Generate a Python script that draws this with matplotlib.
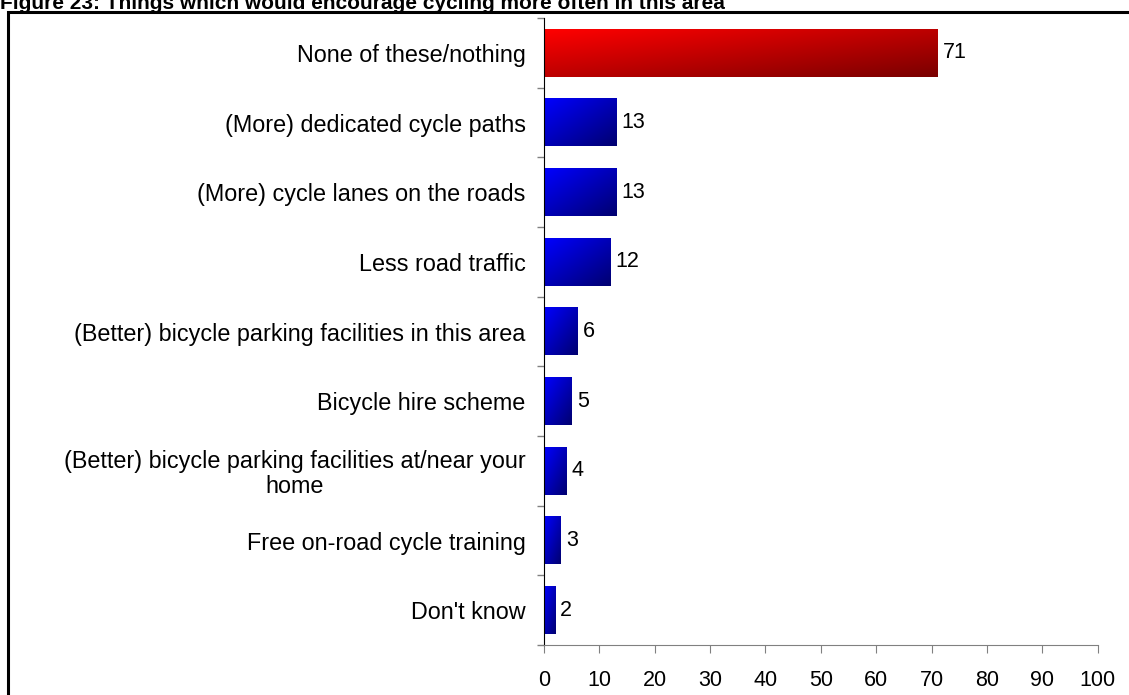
import matplotlib
matplotlib.use('Agg')
import matplotlib.pyplot as plt
import numpy as np
from matplotlib.colors import LinearSegmentedColormap
from matplotlib.patches import Rectangle

plt.rcParams['font.family'] = ['Liberation Sans', 'DejaVu Sans']

title = 'Figure 23: Things which would encourage cycling more often in this area'
categories = ['None of these/nothing',
              '(More) dedicated cycle paths',
              '(More) cycle lanes on the roads',
              'Less road traffic',
              '(Better) bicycle parking facilities in this area',
              'Bicycle hire scheme',
              '(Better) bicycle parking facilities at/near your\nhome',
              'Free on-road cycle training',
              "Don't know"]
values = [71, 13, 13, 12, 6, 5, 4, 3, 2]
highlight = [True, False, False, False, False, False, False, False, False]

red_map = LinearSegmentedColormap.from_list('r', ['#ff0000', '#7a0000'])
blue_map = LinearSegmentedColormap.from_list('b', ['#0000ff', '#000070'])

fig = plt.figure(figsize=(11.29, 6.95), dpi=100)
ax = fig.add_axes([0.4816, 0.0719, 0.4907, 0.9022])

n = len(categories)
ypos = np.arange(n)
bars = ax.barh(ypos, values, height=0.68, color='none')

# diagonal gradient fill for each bar
u, v = np.meshgrid(np.linspace(0, 1, 60), np.linspace(0, 1, 60))
grad = (u + v) / 2
for b, hl in zip(bars, highlight):
    x0, y0 = b.get_x(), b.get_y()
    w, h = b.get_width(), b.get_height()
    ax.imshow(grad, cmap=red_map if hl else blue_map, aspect='auto',
              extent=(x0, x0 + w, y0 + h, y0), interpolation='bilinear', zorder=2)
ax.set_xlim(0, 100)
ax.set_ylim(n - 0.5, -0.5)

for y, val in zip(ypos, values):
    ax.text(val + 1.0, y, str(val), va='center', ha='left', fontsize=15.5)

# category labels at centres, tick marks at boundaries
ax.set_yticks(np.arange(-0.5, n, 1))
ax.set_yticklabels([])
ax.set_yticks(ypos, minor=True)
ax.set_yticklabels(categories, minor=True, fontsize=16.8)
for lab in ax.get_yticklabels(minor=True):
    lab.set_multialignment('center')
    lab.set_linespacing(1.1)
ax.tick_params(axis='y', which='minor', length=0, pad=13)
ax.tick_params(axis='y', which='major', length=5, color='#808080', width=1)

ax.set_xticks(np.arange(0, 101, 10))
ax.tick_params(axis='x', length=6, color='#808080', labelsize=15.5, pad=12)

for s in ['top', 'right']:
    ax.spines[s].set_visible(False)
ax.spines['left'].set_color('black')
ax.spines['bottom'].set_color('#808080')

# outer frame and clipped title
fig.patches.append(Rectangle((8 / 1129, -0.1), 1.2, 1.1 - 12 / 695,
                             transform=fig.transFigure, fill=False,
                             edgecolor='black', linewidth=2.2))
fig.text(0.0, 1 - 9 / 695, title, ha='left', va='baseline',
         fontsize=15, fontweight='bold')

fig.savefig('out.png', dpi=100)
